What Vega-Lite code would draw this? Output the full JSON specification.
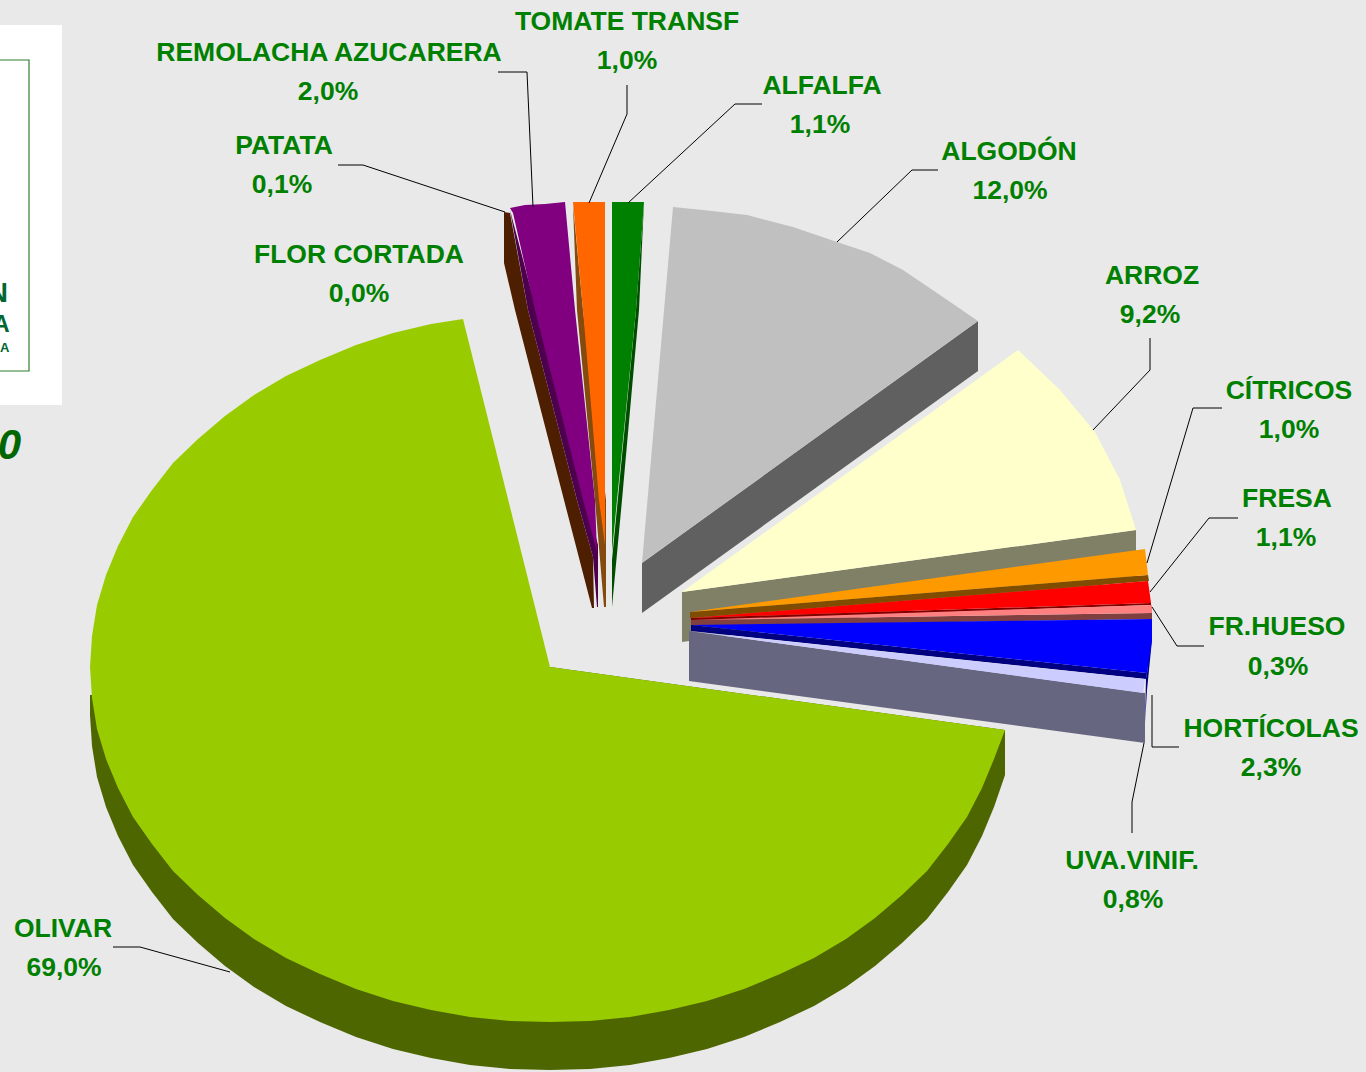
{"$schema":"https://vega.github.io/schema/vega-lite/v6.json","width":1366,"height":1072,"padding":0,"autosize":{"type":"none"},"background":"#e9e9e9","view":{"stroke":null},"config":{"view":{"stroke":null}},
"datasets":{
"caja":[{"pieza":"blanca","x":0,"x2":62,"y":25,"y2":405}],
"marco":[{"pieza":"marco","x":-6,"x2":29,"y":60,"y2":371}],
"poligonos":[
{"parte":"OLIVAR lado","n":1,"x":90,"y":695},{"parte":"OLIVAR lado","n":2,"x":90,"y":715},{"parte":"OLIVAR lado","n":3,"x":92,"y":746},{"parte":"OLIVAR lado","n":4,"x":97,"y":777},{"parte":"OLIVAR lado","n":5,"x":106,"y":807},{"parte":"OLIVAR lado","n":6,"x":118,"y":836},{"parte":"OLIVAR lado","n":7,"x":133,"y":865},{"parte":"OLIVAR lado","n":8,"x":152,"y":892},{"parte":"OLIVAR lado","n":9,"x":173,"y":919},{"parte":"OLIVAR lado","n":10,"x":198,"y":943},{"parte":"OLIVAR lado","n":11,"x":225,"y":966},{"parte":"OLIVAR lado","n":12,"x":254,"y":987},{"parte":"OLIVAR lado","n":13,"x":286,"y":1006},{"parte":"OLIVAR lado","n":14,"x":320,"y":1022},{"parte":"OLIVAR lado","n":15,"x":356,"y":1037},{"parte":"OLIVAR lado","n":16,"x":393,"y":1049},{"parte":"OLIVAR lado","n":17,"x":431,"y":1058},{"parte":"OLIVAR lado","n":18,"x":470,"y":1065},{"parte":"OLIVAR lado","n":19,"x":510,"y":1069},{"parte":"OLIVAR lado","n":20,"x":550,"y":1070},{"parte":"OLIVAR lado","n":21,"x":590,"y":1069},{"parte":"OLIVAR lado","n":22,"x":630,"y":1065},{"parte":"OLIVAR lado","n":23,"x":669,"y":1058},{"parte":"OLIVAR lado","n":24,"x":707,"y":1049},{"parte":"OLIVAR lado","n":25,"x":744,"y":1037},{"parte":"OLIVAR lado","n":26,"x":780,"y":1022},{"parte":"OLIVAR lado","n":27,"x":814,"y":1006},{"parte":"OLIVAR lado","n":28,"x":846,"y":987},{"parte":"OLIVAR lado","n":29,"x":875,"y":966},{"parte":"OLIVAR lado","n":30,"x":902,"y":943},{"parte":"OLIVAR lado","n":31,"x":927,"y":919},{"parte":"OLIVAR lado","n":32,"x":948,"y":892},{"parte":"OLIVAR lado","n":33,"x":967,"y":865},{"parte":"OLIVAR lado","n":34,"x":982,"y":836},{"parte":"OLIVAR lado","n":35,"x":994,"y":807},{"parte":"OLIVAR lado","n":36,"x":1005,"y":775},{"parte":"OLIVAR lado","n":37,"x":1005,"y":730},{"parte":"OLIVAR lado","n":38,"x":550,"y":667},
{"parte":"OLIVAR","n":1,"x":550,"y":667},{"parte":"OLIVAR","n":2,"x":1005,"y":730},{"parte":"OLIVAR","n":3,"x":994,"y":759},{"parte":"OLIVAR","n":4,"x":982,"y":788},{"parte":"OLIVAR","n":5,"x":967,"y":817},{"parte":"OLIVAR","n":6,"x":948,"y":844},{"parte":"OLIVAR","n":7,"x":927,"y":871},{"parte":"OLIVAR","n":8,"x":902,"y":895},{"parte":"OLIVAR","n":9,"x":875,"y":918},{"parte":"OLIVAR","n":10,"x":846,"y":939},{"parte":"OLIVAR","n":11,"x":814,"y":958},{"parte":"OLIVAR","n":12,"x":780,"y":974},{"parte":"OLIVAR","n":13,"x":744,"y":989},{"parte":"OLIVAR","n":14,"x":707,"y":1001},{"parte":"OLIVAR","n":15,"x":669,"y":1010},{"parte":"OLIVAR","n":16,"x":630,"y":1017},{"parte":"OLIVAR","n":17,"x":590,"y":1021},{"parte":"OLIVAR","n":18,"x":550,"y":1022},{"parte":"OLIVAR","n":19,"x":510,"y":1021},{"parte":"OLIVAR","n":20,"x":470,"y":1017},{"parte":"OLIVAR","n":21,"x":431,"y":1010},{"parte":"OLIVAR","n":22,"x":393,"y":1001},{"parte":"OLIVAR","n":23,"x":356,"y":989},{"parte":"OLIVAR","n":24,"x":320,"y":974},{"parte":"OLIVAR","n":25,"x":286,"y":958},{"parte":"OLIVAR","n":26,"x":254,"y":939},{"parte":"OLIVAR","n":27,"x":225,"y":918},{"parte":"OLIVAR","n":28,"x":198,"y":895},{"parte":"OLIVAR","n":29,"x":173,"y":871},{"parte":"OLIVAR","n":30,"x":152,"y":844},{"parte":"OLIVAR","n":31,"x":133,"y":817},{"parte":"OLIVAR","n":32,"x":118,"y":788},{"parte":"OLIVAR","n":33,"x":106,"y":759},{"parte":"OLIVAR","n":34,"x":97,"y":729},{"parte":"OLIVAR","n":35,"x":92,"y":698},{"parte":"OLIVAR","n":36,"x":90,"y":667},{"parte":"OLIVAR","n":37,"x":92,"y":636},{"parte":"OLIVAR","n":38,"x":97,"y":605},{"parte":"OLIVAR","n":39,"x":106,"y":575},{"parte":"OLIVAR","n":40,"x":118,"y":546},{"parte":"OLIVAR","n":41,"x":133,"y":517},{"parte":"OLIVAR","n":42,"x":152,"y":490},{"parte":"OLIVAR","n":43,"x":173,"y":463},{"parte":"OLIVAR","n":44,"x":198,"y":439},{"parte":"OLIVAR","n":45,"x":225,"y":416},{"parte":"OLIVAR","n":46,"x":254,"y":395},{"parte":"OLIVAR","n":47,"x":286,"y":376},{"parte":"OLIVAR","n":48,"x":320,"y":360},{"parte":"OLIVAR","n":49,"x":356,"y":345},{"parte":"OLIVAR","n":50,"x":393,"y":333},{"parte":"OLIVAR","n":51,"x":431,"y":324},{"parte":"OLIVAR","n":52,"x":463,"y":319},
{"parte":"PATATA lado","n":1,"x":504,"y":212},{"parte":"PATATA lado","n":2,"x":504,"y":263},{"parte":"PATATA lado","n":3,"x":515,"y":310},{"parte":"PATATA lado","n":4,"x":564,"y":500},{"parte":"PATATA lado","n":5,"x":592,"y":608},{"parte":"PATATA lado","n":6,"x":594,"y":608},{"parte":"PATATA lado","n":7,"x":593,"y":557},{"parte":"PATATA lado","n":8,"x":577,"y":500},{"parte":"PATATA lado","n":9,"x":528,"y":310},{"parte":"PATATA lado","n":10,"x":510,"y":213},
{"parte":"REMOLACHA lado","n":1,"x":510,"y":210},{"parte":"REMOLACHA lado","n":2,"x":528,"y":310},{"parte":"REMOLACHA lado","n":3,"x":577,"y":500},{"parte":"REMOLACHA lado","n":4,"x":593,"y":557},{"parte":"REMOLACHA lado","n":5,"x":597,"y":607},{"parte":"REMOLACHA lado","n":6,"x":598,"y":607},{"parte":"REMOLACHA lado","n":7,"x":598,"y":545},
{"parte":"REMOLACHA","n":1,"x":510,"y":208},{"parte":"REMOLACHA","n":2,"x":525,"y":205},{"parte":"REMOLACHA","n":3,"x":545,"y":204},{"parte":"REMOLACHA","n":4,"x":565,"y":202},{"parte":"REMOLACHA","n":5,"x":575,"y":310},{"parte":"REMOLACHA","n":6,"x":595,"y":500},{"parte":"REMOLACHA","n":7,"x":597,"y":552},{"parte":"REMOLACHA","n":8,"x":583,"y":500},{"parte":"REMOLACHA","n":9,"x":535,"y":310},{"parte":"REMOLACHA","n":10,"x":513,"y":213},
{"parte":"TOMATE lado","n":1,"x":573,"y":205},{"parte":"TOMATE lado","n":2,"x":577,"y":310},{"parte":"TOMATE lado","n":3,"x":595,"y":500},{"parte":"TOMATE lado","n":4,"x":604,"y":607},{"parte":"TOMATE lado","n":5,"x":606,"y":607},{"parte":"TOMATE lado","n":6,"x":606,"y":500},{"parte":"TOMATE lado","n":7,"x":583,"y":310},
{"parte":"TOMATE","n":1,"x":573,"y":202},{"parte":"TOMATE","n":2,"x":605,"y":202},{"parte":"TOMATE","n":3,"x":605,"y":545},{"parte":"TOMATE","n":4,"x":599,"y":500},{"parte":"TOMATE","n":5,"x":583,"y":310},
{"parte":"ALFALFA lado","n":1,"x":644,"y":202},{"parte":"ALFALFA lado","n":2,"x":639,"y":310},{"parte":"ALFALFA lado","n":3,"x":622,"y":500},{"parte":"ALFALFA lado","n":4,"x":612,"y":607},{"parte":"ALFALFA lado","n":5,"x":612,"y":560},{"parte":"ALFALFA lado","n":6,"x":636,"y":310},
{"parte":"ALFALFA","n":1,"x":612,"y":202},{"parte":"ALFALFA","n":2,"x":644,"y":202},{"parte":"ALFALFA","n":3,"x":636,"y":310},{"parte":"ALFALFA","n":4,"x":617,"y":500},{"parte":"ALFALFA","n":5,"x":612,"y":552},
{"parte":"ALGODON lado","n":1,"x":642,"y":563},{"parte":"ALGODON lado","n":2,"x":978,"y":321},{"parte":"ALGODON lado","n":3,"x":978,"y":371},{"parte":"ALGODON lado","n":4,"x":642,"y":613},
{"parte":"ALGODON","n":1,"x":642,"y":563},{"parte":"ALGODON","n":2,"x":673,"y":207},{"parte":"ALGODON","n":3,"x":703,"y":210},{"parte":"ALGODON","n":4,"x":747,"y":215},{"parte":"ALGODON","n":5,"x":793,"y":227},{"parte":"ALGODON","n":6,"x":837,"y":242},{"parte":"ALGODON","n":7,"x":870,"y":253},{"parte":"ALGODON","n":8,"x":903,"y":270},{"parte":"ALGODON","n":9,"x":937,"y":293},{"parte":"ALGODON","n":10,"x":978,"y":321},
{"parte":"ARROZ lado","n":1,"x":682,"y":592},{"parte":"ARROZ lado","n":2,"x":1136,"y":530},{"parte":"ARROZ lado","n":3,"x":1136,"y":580},{"parte":"ARROZ lado","n":4,"x":682,"y":642},
{"parte":"ARROZ","n":1,"x":682,"y":592},{"parte":"ARROZ","n":2,"x":1018,"y":350},{"parte":"ARROZ","n":3,"x":1060,"y":390},{"parte":"ARROZ","n":4,"x":1095,"y":432},{"parte":"ARROZ","n":5,"x":1120,"y":480},{"parte":"ARROZ","n":6,"x":1136,"y":530},
{"parte":"CITRICOS lado","n":1,"x":690,"y":612},{"parte":"CITRICOS lado","n":2,"x":1148,"y":575},{"parte":"CITRICOS lado","n":3,"x":1149,"y":581},{"parte":"CITRICOS lado","n":4,"x":690,"y":618},
{"parte":"CITRICOS","n":1,"x":690,"y":612},{"parte":"CITRICOS","n":2,"x":1145,"y":549},{"parte":"CITRICOS","n":3,"x":1148,"y":575},
{"parte":"FRESA lado","n":1,"x":691,"y":618},{"parte":"FRESA lado","n":2,"x":1151,"y":603},{"parte":"FRESA lado","n":3,"x":1151,"y":605},{"parte":"FRESA lado","n":4,"x":691,"y":621},
{"parte":"FRESA","n":1,"x":691,"y":618},{"parte":"FRESA","n":2,"x":1148,"y":581},{"parte":"FRESA","n":3,"x":1151,"y":603},
{"parte":"HUESO lado","n":1,"x":691,"y":620},{"parte":"HUESO lado","n":2,"x":1152,"y":613},{"parte":"HUESO lado","n":3,"x":1152,"y":619},{"parte":"HUESO lado","n":4,"x":691,"y":626},
{"parte":"HUESO","n":1,"x":691,"y":620},{"parte":"HUESO","n":2,"x":1152,"y":605},{"parte":"HUESO","n":3,"x":1152,"y":613},
{"parte":"HORTICOLAS lado","n":1,"x":691,"y":625},{"parte":"HORTICOLAS lado","n":2,"x":1147,"y":673},{"parte":"HORTICOLAS lado","n":3,"x":1146,"y":679},{"parte":"HORTICOLAS lado","n":4,"x":691,"y":631},
{"parte":"HORTICOLAS borde","n":1,"x":1152,"y":619},{"parte":"HORTICOLAS borde","n":2,"x":1152,"y":640},{"parte":"HORTICOLAS borde","n":3,"x":1147,"y":690},{"parte":"HORTICOLAS borde","n":4,"x":1145,"y":723},{"parte":"HORTICOLAS borde","n":5,"x":1146,"y":678},{"parte":"HORTICOLAS borde","n":6,"x":1147,"y":673},
{"parte":"HORTICOLAS","n":1,"x":691,"y":625},{"parte":"HORTICOLAS","n":2,"x":1152,"y":619},{"parte":"HORTICOLAS","n":3,"x":1152,"y":640},{"parte":"HORTICOLAS","n":4,"x":1147,"y":673},
{"parte":"UVA lado","n":1,"x":689,"y":631},{"parte":"UVA lado","n":2,"x":1145,"y":693},{"parte":"UVA lado","n":3,"x":1145,"y":743},{"parte":"UVA lado","n":4,"x":689,"y":681},
{"parte":"UVA","n":1,"x":689,"y":631},{"parte":"UVA","n":2,"x":1145,"y":679},{"parte":"UVA","n":3,"x":1143,"y":693}
],
"guias":[
{"cultivo":"PATATA","n":1,"x":338,"y":165},{"cultivo":"PATATA","n":2,"x":363,"y":165},{"cultivo":"PATATA","n":3,"x":505,"y":212},
{"cultivo":"REMOLACHA AZUCARERA","n":1,"x":498,"y":72},{"cultivo":"REMOLACHA AZUCARERA","n":2,"x":527,"y":72},{"cultivo":"REMOLACHA AZUCARERA","n":3,"x":533,"y":207},
{"cultivo":"TOMATE TRANSF","n":1,"x":627,"y":85},{"cultivo":"TOMATE TRANSF","n":2,"x":627,"y":114},{"cultivo":"TOMATE TRANSF","n":3,"x":589,"y":203},
{"cultivo":"ALFALFA","n":1,"x":762,"y":104},{"cultivo":"ALFALFA","n":2,"x":735,"y":104},{"cultivo":"ALFALFA","n":3,"x":628,"y":203},
{"cultivo":"ALGODON","n":1,"x":938,"y":170},{"cultivo":"ALGODON","n":2,"x":912,"y":170},{"cultivo":"ALGODON","n":3,"x":837,"y":242},
{"cultivo":"ARROZ","n":1,"x":1150,"y":338},{"cultivo":"ARROZ","n":2,"x":1150,"y":370},{"cultivo":"ARROZ","n":3,"x":1093,"y":430},
{"cultivo":"CITRICOS","n":1,"x":1222,"y":408},{"cultivo":"CITRICOS","n":2,"x":1193,"y":408},{"cultivo":"CITRICOS","n":3,"x":1147,"y":563},
{"cultivo":"FRESA","n":1,"x":1238,"y":518},{"cultivo":"FRESA","n":2,"x":1209,"y":518},{"cultivo":"FRESA","n":3,"x":1150,"y":592},
{"cultivo":"FR.HUESO","n":1,"x":1204,"y":646},{"cultivo":"FR.HUESO","n":2,"x":1177,"y":646},{"cultivo":"FR.HUESO","n":3,"x":1152,"y":607},
{"cultivo":"HORTICOLAS","n":1,"x":1179,"y":747},{"cultivo":"HORTICOLAS","n":2,"x":1152,"y":747},{"cultivo":"HORTICOLAS","n":3,"x":1152,"y":695},
{"cultivo":"UVA.VINIF.","n":1,"x":1132,"y":833},{"cultivo":"UVA.VINIF.","n":2,"x":1132,"y":802},{"cultivo":"UVA.VINIF.","n":3,"x":1144,"y":743},
{"cultivo":"OLIVAR","n":1,"x":113,"y":947},{"cultivo":"OLIVAR","n":2,"x":140,"y":947},{"cultivo":"OLIVAR","n":3,"x":230,"y":972}
],
"etiquetas":[
{"cultivo":"TOMATE TRANSF","porcentaje":"1,0%","x":627,"y":21,"xp":627,"yp":60},
{"cultivo":"ALFALFA","porcentaje":"1,1%","x":822,"y":85,"xp":820,"yp":124},
{"cultivo":"ALGODÓN","porcentaje":"12,0%","x":1009,"y":151,"xp":1010,"yp":190},
{"cultivo":"ARROZ","porcentaje":"9,2%","x":1152,"y":275,"xp":1150,"yp":314},
{"cultivo":"CÍTRICOS","porcentaje":"1,0%","x":1289,"y":390,"xp":1289,"yp":429},
{"cultivo":"FRESA","porcentaje":"1,1%","x":1287,"y":498,"xp":1286,"yp":537},
{"cultivo":"FR.HUESO","porcentaje":"0,3%","x":1277,"y":626,"xp":1278,"yp":666},
{"cultivo":"HORTÍCOLAS","porcentaje":"2,3%","x":1271,"y":728,"xp":1271,"yp":767},
{"cultivo":"UVA.VINIF.","porcentaje":"0,8%","x":1132,"y":860,"xp":1133,"yp":899},
{"cultivo":"OLIVAR","porcentaje":"69,0%","x":63,"y":928,"xp":64,"yp":967},
{"cultivo":"FLOR CORTADA","porcentaje":"0,0%","x":359,"y":254,"xp":359,"yp":293},
{"cultivo":"PATATA","porcentaje":"0,1%","x":284,"y":145,"xp":282,"yp":184},
{"cultivo":"REMOLACHA AZUCARERA","porcentaje":"2,0%","x":329,"y":52,"xp":328,"yp":91}
],
"fragmentos":[
{"texto":"N","x":8,"y":294,"tam":"a"},{"texto":"A","x":9.5,"y":325,"tam":"b"},{"texto":"A","x":9.5,"y":348,"tam":"c"}
],
"cero":[{"texto":"0","x":21,"y":446}]
},
"layer":[
{"data":{"name":"caja"},"mark":{"type":"rect","fill":"#ffffff"},"encoding":{"x":{"field":"x","type":"quantitative","scale":{"domain":[0,1366],"nice":false,"zero":false},"axis":null},"x2":{"field":"x2"},"y":{"field":"y","type":"quantitative","scale":{"domain":[1072,0],"nice":false,"zero":false},"axis":null},"y2":{"field":"y2"}}},
{"data":{"name":"marco"},"mark":{"type":"rect","filled":false,"stroke":"#2f7f2f","strokeWidth":1.2,"clip":true},"encoding":{"x":{"field":"x","type":"quantitative","axis":null},"x2":{"field":"x2"},"y":{"field":"y","type":"quantitative","axis":null},"y2":{"field":"y2"}}},
{"data":{"name":"fragmentos"},"mark":{"type":"text","align":"right","baseline":"middle","font":"Liberation Sans","fontWeight":"bold","color":"#006633"},"encoding":{"x":{"field":"x","type":"quantitative","axis":null},"y":{"field":"y","type":"quantitative","axis":null},"text":{"field":"texto"},"size":{"field":"tam","type":"ordinal","legend":null,"scale":{"type":"ordinal","domain":["a","b","c"],"range":[28,23,13]}}}},
{"data":{"name":"cero"},"mark":{"type":"text","align":"right","baseline":"middle","font":"Liberation Sans","fontWeight":"bold","fontStyle":"italic","fontSize":42,"color":"#006600"},"encoding":{"x":{"field":"x","type":"quantitative","axis":null},"y":{"field":"y","type":"quantitative","axis":null},"text":{"field":"texto"}}},
{"data":{"name":"poligonos"},"mark":{"type":"line","strokeWidth":0,"interpolate":"linear-closed"},"encoding":{"x":{"field":"x","type":"quantitative","axis":null},"y":{"field":"y","type":"quantitative","axis":null},"order":{"field":"n","type":"quantitative"},"detail":{"field":"parte"},"fill":{"field":"parte","type":"nominal","legend":null,"scale":{"domain":["OLIVAR lado","OLIVAR","PATATA lado","REMOLACHA lado","REMOLACHA","TOMATE lado","TOMATE","ALFALFA lado","ALFALFA","ALGODON lado","ALGODON","ARROZ lado","ARROZ","CITRICOS lado","CITRICOS","FRESA lado","FRESA","HUESO lado","HUESO","HORTICOLAS lado","HORTICOLAS borde","HORTICOLAS","UVA lado","UVA"],"range":["#4d6600","#99cc00","#4d1f00","#4d004d","#800080","#854a0e","#ff6600","#004d00","#008000","#606060","#c0c0c0","#808066","#ffffcc","#804d00","#ff9900","#800000","#ff0000","#804040","#ff8080","#000080","#000080","#0000ff","#666680","#ccccff"]}}}},
{"data":{"name":"guias"},"mark":{"type":"line","color":"#000000","strokeWidth":1},"encoding":{"x":{"field":"x","type":"quantitative","axis":null},"y":{"field":"y","type":"quantitative","axis":null},"order":{"field":"n","type":"quantitative"},"detail":{"field":"cultivo"}}},
{"data":{"name":"etiquetas"},"mark":{"type":"text","align":"center","baseline":"middle","dy":0.5,"font":"Liberation Sans","fontWeight":"bold","fontSize":26.5,"color":"#008000"},"encoding":{"x":{"field":"x","type":"quantitative","axis":null},"y":{"field":"y","type":"quantitative","axis":null},"text":{"field":"cultivo"}}},
{"data":{"name":"etiquetas"},"mark":{"type":"text","align":"center","baseline":"middle","dy":0.5,"font":"Liberation Sans","fontWeight":"bold","fontSize":26.5,"color":"#008000"},"encoding":{"x":{"field":"xp","type":"quantitative","axis":null},"y":{"field":"yp","type":"quantitative","axis":null},"text":{"field":"porcentaje"}}}
],
"resolve":{"scale":{"x":"shared","y":"shared"}}}
